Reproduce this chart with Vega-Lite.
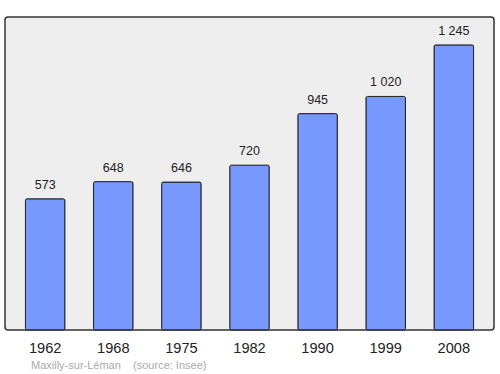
{
  "$schema": "https://vega.github.io/schema/vega-lite/v6.json",
  "width": 489,
  "height": 313,
  "autosize": "none",
  "padding": {"left": 5, "top": 17, "right": 6, "bottom": 44},
  "background": "white",
  "title": {
    "text": "Maxilly-sur-Léman\u00a0\u00a0\u00a0\u00a0(source: Insee)",
    "orient": "bottom",
    "anchor": "start",
    "frame": "group",
    "dx": 26,
    "offset": 5,
    "font": "Liberation Sans",
    "fontSize": 11,
    "fontWeight": "normal",
    "color": "#aaaaaa"
  },
  "data": {
    "values": [
      {"year": "1962", "pop": 573, "label": "573"},
      {"year": "1968", "pop": 648, "label": "648"},
      {"year": "1975", "pop": 646, "label": "646"},
      {"year": "1982", "pop": 720, "label": "720"},
      {"year": "1990", "pop": 945, "label": "945"},
      {"year": "1999", "pop": 1020, "label": "1 020"},
      {"year": "2008", "pop": 1245, "label": "1 245"}
    ]
  },
  "encoding": {
    "x": {
      "field": "year",
      "type": "ordinal",
      "scale": {"paddingInner": 0.42, "paddingOuter": 0.3},
      "axis": {
        "title": null,
        "domain": false,
        "ticks": false,
        "labelAngle": 0,
        "labelPadding": 10,
        "labelFont": "Liberation Sans",
        "labelFontSize": 14.6,
        "labelColor": "#222222"
      }
    },
    "y": {
      "field": "pop",
      "type": "quantitative",
      "scale": {"domain": [0, 1367], "nice": false},
      "axis": null
    }
  },
  "layer": [
    {
      "mark": {
        "type": "bar",
        "fill": "#7799ff",
        "stroke": "#222222",
        "strokeWidth": 1,
        "cornerRadius": 1.5
      }
    },
    {
      "mark": {
        "type": "text",
        "dy": -14,
        "font": "Liberation Sans",
        "fontSize": 12.5,
        "color": "#222222"
      },
      "encoding": {"text": {"field": "label"}}
    }
  ],
  "config": {
    "view": {
      "fill": "#eeeeee",
      "stroke": "#333333",
      "strokeWidth": 1.5,
      "cornerRadius": 3
    }
  }
}
